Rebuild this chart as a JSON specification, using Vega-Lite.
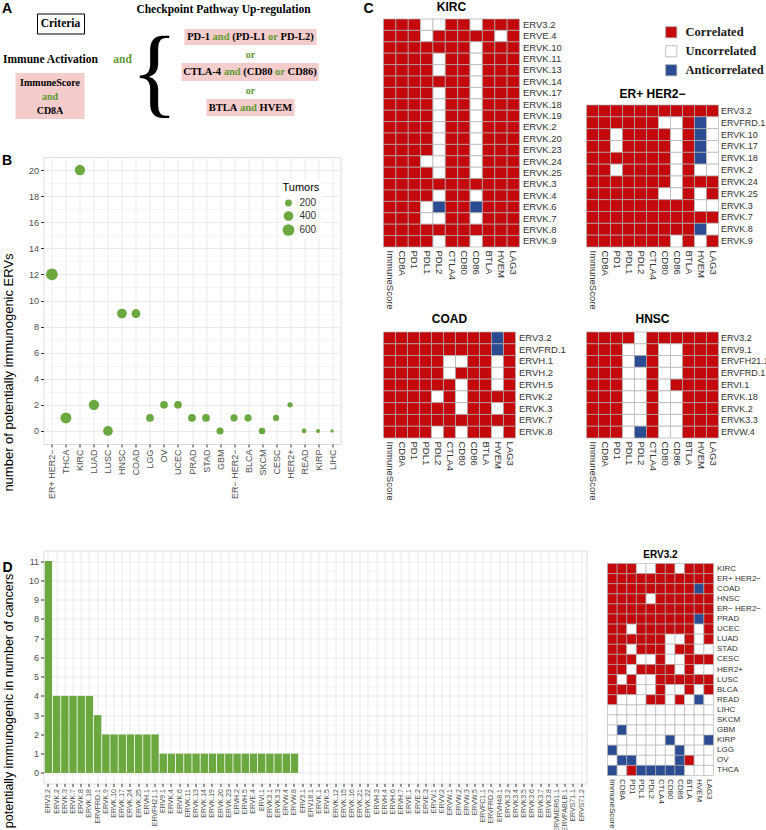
{
"$schema":"https://vega.github.io/schema/vega-lite/v6.json",
"padding":{"left":1.5,"top":0,"right":0,"bottom":0},
"background":"white",
"config":{"font":"Liberation Sans","view":{"stroke":null},"title":{"font":"Liberation Sans","color":"#000000"},"axis":{"labelFont":"Liberation Sans","titleFont":"Liberation Sans"}},
"datasets":{
"a_frame":[{"x1":39,"x2":86,"y1":12,"y2":32}],
"a_pink":[{"x1":17,"x2":86,"y1":71,"y2":117},{"x1":186,"x2":318,"y1":27,"y2":43},{"x1":183,"x2":320,"y1":61,"y2":79},{"x1":208,"x2":296,"y1":97,"y2":114}],
"a_head":[{"t":"Checkpoint Pathway Up-regulation","x":225,"y":7.5,"k":"black"},{"t":"Criteria","x":62,"y":22,"k":"black"},{"t":"Immune Activation","x":52,"y":58,"k":"black"},{"t":"and","x":124,"y":58,"k":"green"}],
"a_mid":[{"t":"ImmuneScore","x":51.5,"y":80.5,"k":"black"},{"t":"and","x":51.5,"y":94.5,"k":"green"},{"t":"CD8A","x":51.5,"y":108.5,"k":"black"},{"t":"or","x":252,"y":53,"k":"green"},{"t":"or","x":252,"y":89,"k":"green"}],
"a_seg":[{"t":"PD-1","x":188.7,"y":35,"k":"black"},{"t":"and","x":214.1,"y":35,"k":"green"},{"t":"(PD-L1","x":233.7,"y":35,"k":"black"},{"t":"or","x":269.6,"y":35,"k":"green"},{"t":"PD-L2)","x":282.1,"y":35,"k":"black"},
{"t":"CTLA-4","x":184.7,"y":70,"k":"black"},{"t":"and","x":225.2,"y":70,"k":"green"},{"t":"(CD80","x":244.8,"y":70,"k":"black"},{"t":"or","x":276.6,"y":70,"k":"green"},{"t":"CD86)","x":289.1,"y":70,"k":"black"},
{"t":"BTLA","x":210.3,"y":105.5,"k":"black"},{"t":"and","x":241.5,"y":105.5,"k":"green"},{"t":"HVEM","x":261.1,"y":105.5,"k":"black"}],
"a_brace":[{"t":"{","x":156,"y":103}],
"a_panel":[{"t":"A","x":8.5,"y":7},{"t":"B","x":8.5,"y":159},{"t":"C","x":370,"y":7}],
"b":[{"cancer":"ER+ HER2−","n":12,"tumors":600},{"cancer":"THCA","n":1,"tumors":520},{"cancer":"KIRC","n":20,"tumors":465},{"cancer":"LUAD","n":2,"tumors":465},{"cancer":"LUSC","n":0,"tumors":413},{"cancer":"HNSC","n":9,"tumors":413},{"cancer":"COAD","n":9,"tumors":340},{"cancer":"LGG","n":1,"tumors":257},{"cancer":"OV","n":2,"tumors":257},{"cancer":"UCEC","n":2,"tumors":257},{"cancer":"PRAD","n":1,"tumors":257},{"cancer":"STAD","n":1,"tumors":257},{"cancer":"GBM","n":0,"tumors":218},{"cancer":"ER− HER2−","n":1,"tumors":218},{"cancer":"BLCA","n":1,"tumors":218},{"cancer":"SKCM","n":0,"tumors":183},{"cancer":"CESC","n":1,"tumors":167},{"cancer":"HER2+","n":2,"tumors":123},{"cancer":"READ","n":0,"tumors":96},{"cancer":"KIRP","n":0,"tumors":74},{"cancer":"LIHC","n":0,"tumors":46}],
"d":[{"erv":"ERV3.2","n":11},{"erv":"ERVK.2","n":4},{"erv":"ERVK.3","n":4},{"erv":"ERVK.7","n":4},{"erv":"ERVK.8","n":4},{"erv":"ERVK.18","n":4},{"erv":"ERVFRD.1","n":3},{"erv":"ERVK.9","n":2},{"erv":"ERVK.10","n":2},{"erv":"ERVK.17","n":2},{"erv":"ERVK.24","n":2},{"erv":"ERVK.25","n":2},{"erv":"ERVH.1","n":2},{"erv":"ERVFH21.1","n":2},{"erv":"ERV9.1","n":1},{"erv":"ERVK.4","n":1},{"erv":"ERVK.6","n":1},{"erv":"ERVK.11","n":1},{"erv":"ERVK.13","n":1},{"erv":"ERVK.14","n":1},{"erv":"ERVK.19","n":1},{"erv":"ERVK.20","n":1},{"erv":"ERVK.23","n":1},{"erv":"ERVH.2","n":1},{"erv":"ERVH.5","n":1},{"erv":"ERVE.4","n":1},{"erv":"ERVI.1","n":1},{"erv":"ERVK3.1","n":1},{"erv":"ERVK3.3","n":1},{"erv":"ERVW.4","n":1},{"erv":"ERVW.8","n":1},{"erv":"ERV3.1","n":0},{"erv":"ERV18.1","n":0},{"erv":"ERVK.1","n":0},{"erv":"ERVK.5","n":0},{"erv":"ERVK.12","n":0},{"erv":"ERVK.15","n":0},{"erv":"ERVK.16","n":0},{"erv":"ERVK.21","n":0},{"erv":"ERVK.22","n":0},{"erv":"ERVH.3","n":0},{"erv":"ERVH.4","n":0},{"erv":"ERVH.6","n":0},{"erv":"ERVH.7","n":0},{"erv":"ERVE.1","n":0},{"erv":"ERVE.2","n":0},{"erv":"ERVE.3","n":0},{"erv":"ERVV.1","n":0},{"erv":"ERVV.2","n":0},{"erv":"ERVW.1","n":0},{"erv":"ERVW.2","n":0},{"erv":"ERVW.3","n":0},{"erv":"ERVW.5","n":0},{"erv":"ERVFC1.1","n":0},{"erv":"ERVFRD.2","n":0},{"erv":"ERVH48.1","n":0},{"erv":"ERVK3.2","n":0},{"erv":"ERVK3.4","n":0},{"erv":"ERVK3.5","n":0},{"erv":"ERVK3.6","n":0},{"erv":"ERVK3.7","n":0},{"erv":"ERVK3.8","n":0},{"erv":"ERVMER61.1","n":0},{"erv":"ERVPABLB.1","n":0},{"erv":"ERVS71.1","n":0},{"erv":"ERVS71.2","n":0}],
"kirc":[
{"r":"ERV3.2","c":"ImmuneScore","s":"C"},{"r":"ERV3.2","c":"CD8A","s":"C"},{"r":"ERV3.2","c":"PD1","s":"C"},{"r":"ERV3.2","c":"PDL1","s":"U"},{"r":"ERV3.2","c":"PDL2","s":"U"},{"r":"ERV3.2","c":"CTLA4","s":"C"},{"r":"ERV3.2","c":"CD80","s":"C"},{"r":"ERV3.2","c":"CD86","s":"U"},{"r":"ERV3.2","c":"BTLA","s":"C"},{"r":"ERV3.2","c":"HVEM","s":"C"},{"r":"ERV3.2","c":"LAG3","s":"C"},
{"r":"ERVE.4","c":"ImmuneScore","s":"C"},{"r":"ERVE.4","c":"CD8A","s":"C"},{"r":"ERVE.4","c":"PD1","s":"C"},{"r":"ERVE.4","c":"PDL1","s":"U"},{"r":"ERVE.4","c":"PDL2","s":"C"},{"r":"ERVE.4","c":"CTLA4","s":"C"},{"r":"ERVE.4","c":"CD80","s":"C"},{"r":"ERVE.4","c":"CD86","s":"C"},{"r":"ERVE.4","c":"BTLA","s":"C"},{"r":"ERVE.4","c":"HVEM","s":"U"},{"r":"ERVE.4","c":"LAG3","s":"C"},
{"r":"ERVK.10","c":"ImmuneScore","s":"C"},{"r":"ERVK.10","c":"CD8A","s":"C"},{"r":"ERVK.10","c":"PD1","s":"C"},{"r":"ERVK.10","c":"PDL1","s":"C"},{"r":"ERVK.10","c":"PDL2","s":"C"},{"r":"ERVK.10","c":"CTLA4","s":"C"},{"r":"ERVK.10","c":"CD80","s":"C"},{"r":"ERVK.10","c":"CD86","s":"U"},{"r":"ERVK.10","c":"BTLA","s":"C"},{"r":"ERVK.10","c":"HVEM","s":"C"},{"r":"ERVK.10","c":"LAG3","s":"C"},
{"r":"ERVK.11","c":"ImmuneScore","s":"C"},{"r":"ERVK.11","c":"CD8A","s":"C"},{"r":"ERVK.11","c":"PD1","s":"C"},{"r":"ERVK.11","c":"PDL1","s":"C"},{"r":"ERVK.11","c":"PDL2","s":"U"},{"r":"ERVK.11","c":"CTLA4","s":"C"},{"r":"ERVK.11","c":"CD80","s":"C"},{"r":"ERVK.11","c":"CD86","s":"U"},{"r":"ERVK.11","c":"BTLA","s":"C"},{"r":"ERVK.11","c":"HVEM","s":"C"},{"r":"ERVK.11","c":"LAG3","s":"C"},
{"r":"ERVK.13","c":"ImmuneScore","s":"C"},{"r":"ERVK.13","c":"CD8A","s":"C"},{"r":"ERVK.13","c":"PD1","s":"C"},{"r":"ERVK.13","c":"PDL1","s":"C"},{"r":"ERVK.13","c":"PDL2","s":"U"},{"r":"ERVK.13","c":"CTLA4","s":"C"},{"r":"ERVK.13","c":"CD80","s":"C"},{"r":"ERVK.13","c":"CD86","s":"U"},{"r":"ERVK.13","c":"BTLA","s":"C"},{"r":"ERVK.13","c":"HVEM","s":"C"},{"r":"ERVK.13","c":"LAG3","s":"C"},
{"r":"ERVK.14","c":"ImmuneScore","s":"C"},{"r":"ERVK.14","c":"CD8A","s":"C"},{"r":"ERVK.14","c":"PD1","s":"C"},{"r":"ERVK.14","c":"PDL1","s":"C"},{"r":"ERVK.14","c":"PDL2","s":"C"},{"r":"ERVK.14","c":"CTLA4","s":"C"},{"r":"ERVK.14","c":"CD80","s":"C"},{"r":"ERVK.14","c":"CD86","s":"U"},{"r":"ERVK.14","c":"BTLA","s":"C"},{"r":"ERVK.14","c":"HVEM","s":"C"},{"r":"ERVK.14","c":"LAG3","s":"C"},
{"r":"ERVK.17","c":"ImmuneScore","s":"C"},{"r":"ERVK.17","c":"CD8A","s":"C"},{"r":"ERVK.17","c":"PD1","s":"C"},{"r":"ERVK.17","c":"PDL1","s":"C"},{"r":"ERVK.17","c":"PDL2","s":"U"},{"r":"ERVK.17","c":"CTLA4","s":"C"},{"r":"ERVK.17","c":"CD80","s":"C"},{"r":"ERVK.17","c":"CD86","s":"U"},{"r":"ERVK.17","c":"BTLA","s":"C"},{"r":"ERVK.17","c":"HVEM","s":"C"},{"r":"ERVK.17","c":"LAG3","s":"C"},
{"r":"ERVK.18","c":"ImmuneScore","s":"C"},{"r":"ERVK.18","c":"CD8A","s":"C"},{"r":"ERVK.18","c":"PD1","s":"C"},{"r":"ERVK.18","c":"PDL1","s":"C"},{"r":"ERVK.18","c":"PDL2","s":"U"},{"r":"ERVK.18","c":"CTLA4","s":"C"},{"r":"ERVK.18","c":"CD80","s":"C"},{"r":"ERVK.18","c":"CD86","s":"U"},{"r":"ERVK.18","c":"BTLA","s":"C"},{"r":"ERVK.18","c":"HVEM","s":"C"},{"r":"ERVK.18","c":"LAG3","s":"C"},
{"r":"ERVK.19","c":"ImmuneScore","s":"C"},{"r":"ERVK.19","c":"CD8A","s":"C"},{"r":"ERVK.19","c":"PD1","s":"C"},{"r":"ERVK.19","c":"PDL1","s":"C"},{"r":"ERVK.19","c":"PDL2","s":"U"},{"r":"ERVK.19","c":"CTLA4","s":"C"},{"r":"ERVK.19","c":"CD80","s":"C"},{"r":"ERVK.19","c":"CD86","s":"U"},{"r":"ERVK.19","c":"BTLA","s":"C"},{"r":"ERVK.19","c":"HVEM","s":"C"},{"r":"ERVK.19","c":"LAG3","s":"C"},
{"r":"ERVK.2","c":"ImmuneScore","s":"C"},{"r":"ERVK.2","c":"CD8A","s":"C"},{"r":"ERVK.2","c":"PD1","s":"C"},{"r":"ERVK.2","c":"PDL1","s":"C"},{"r":"ERVK.2","c":"PDL2","s":"U"},{"r":"ERVK.2","c":"CTLA4","s":"C"},{"r":"ERVK.2","c":"CD80","s":"C"},{"r":"ERVK.2","c":"CD86","s":"U"},{"r":"ERVK.2","c":"BTLA","s":"C"},{"r":"ERVK.2","c":"HVEM","s":"C"},{"r":"ERVK.2","c":"LAG3","s":"C"},
{"r":"ERVK.20","c":"ImmuneScore","s":"C"},{"r":"ERVK.20","c":"CD8A","s":"C"},{"r":"ERVK.20","c":"PD1","s":"C"},{"r":"ERVK.20","c":"PDL1","s":"C"},{"r":"ERVK.20","c":"PDL2","s":"U"},{"r":"ERVK.20","c":"CTLA4","s":"C"},{"r":"ERVK.20","c":"CD80","s":"C"},{"r":"ERVK.20","c":"CD86","s":"U"},{"r":"ERVK.20","c":"BTLA","s":"C"},{"r":"ERVK.20","c":"HVEM","s":"C"},{"r":"ERVK.20","c":"LAG3","s":"C"},
{"r":"ERVK.23","c":"ImmuneScore","s":"C"},{"r":"ERVK.23","c":"CD8A","s":"C"},{"r":"ERVK.23","c":"PD1","s":"C"},{"r":"ERVK.23","c":"PDL1","s":"C"},{"r":"ERVK.23","c":"PDL2","s":"U"},{"r":"ERVK.23","c":"CTLA4","s":"C"},{"r":"ERVK.23","c":"CD80","s":"C"},{"r":"ERVK.23","c":"CD86","s":"U"},{"r":"ERVK.23","c":"BTLA","s":"C"},{"r":"ERVK.23","c":"HVEM","s":"C"},{"r":"ERVK.23","c":"LAG3","s":"C"},
{"r":"ERVK.24","c":"ImmuneScore","s":"C"},{"r":"ERVK.24","c":"CD8A","s":"C"},{"r":"ERVK.24","c":"PD1","s":"C"},{"r":"ERVK.24","c":"PDL1","s":"U"},{"r":"ERVK.24","c":"PDL2","s":"U"},{"r":"ERVK.24","c":"CTLA4","s":"C"},{"r":"ERVK.24","c":"CD80","s":"C"},{"r":"ERVK.24","c":"CD86","s":"U"},{"r":"ERVK.24","c":"BTLA","s":"C"},{"r":"ERVK.24","c":"HVEM","s":"C"},{"r":"ERVK.24","c":"LAG3","s":"C"},
{"r":"ERVK.25","c":"ImmuneScore","s":"C"},{"r":"ERVK.25","c":"CD8A","s":"C"},{"r":"ERVK.25","c":"PD1","s":"C"},{"r":"ERVK.25","c":"PDL1","s":"C"},{"r":"ERVK.25","c":"PDL2","s":"U"},{"r":"ERVK.25","c":"CTLA4","s":"C"},{"r":"ERVK.25","c":"CD80","s":"C"},{"r":"ERVK.25","c":"CD86","s":"U"},{"r":"ERVK.25","c":"BTLA","s":"C"},{"r":"ERVK.25","c":"HVEM","s":"C"},{"r":"ERVK.25","c":"LAG3","s":"C"},
{"r":"ERVK.3","c":"ImmuneScore","s":"C"},{"r":"ERVK.3","c":"CD8A","s":"C"},{"r":"ERVK.3","c":"PD1","s":"C"},{"r":"ERVK.3","c":"PDL1","s":"C"},{"r":"ERVK.3","c":"PDL2","s":"C"},{"r":"ERVK.3","c":"CTLA4","s":"C"},{"r":"ERVK.3","c":"CD80","s":"C"},{"r":"ERVK.3","c":"CD86","s":"C"},{"r":"ERVK.3","c":"BTLA","s":"C"},{"r":"ERVK.3","c":"HVEM","s":"C"},{"r":"ERVK.3","c":"LAG3","s":"C"},
{"r":"ERVK.4","c":"ImmuneScore","s":"C"},{"r":"ERVK.4","c":"CD8A","s":"C"},{"r":"ERVK.4","c":"PD1","s":"C"},{"r":"ERVK.4","c":"PDL1","s":"C"},{"r":"ERVK.4","c":"PDL2","s":"U"},{"r":"ERVK.4","c":"CTLA4","s":"C"},{"r":"ERVK.4","c":"CD80","s":"C"},{"r":"ERVK.4","c":"CD86","s":"U"},{"r":"ERVK.4","c":"BTLA","s":"C"},{"r":"ERVK.4","c":"HVEM","s":"C"},{"r":"ERVK.4","c":"LAG3","s":"C"},
{"r":"ERVK.6","c":"ImmuneScore","s":"C"},{"r":"ERVK.6","c":"CD8A","s":"C"},{"r":"ERVK.6","c":"PD1","s":"C"},{"r":"ERVK.6","c":"PDL1","s":"U"},{"r":"ERVK.6","c":"PDL2","s":"A"},{"r":"ERVK.6","c":"CTLA4","s":"C"},{"r":"ERVK.6","c":"CD80","s":"C"},{"r":"ERVK.6","c":"CD86","s":"A"},{"r":"ERVK.6","c":"BTLA","s":"C"},{"r":"ERVK.6","c":"HVEM","s":"C"},{"r":"ERVK.6","c":"LAG3","s":"C"},
{"r":"ERVK.7","c":"ImmuneScore","s":"C"},{"r":"ERVK.7","c":"CD8A","s":"C"},{"r":"ERVK.7","c":"PD1","s":"C"},{"r":"ERVK.7","c":"PDL1","s":"U"},{"r":"ERVK.7","c":"PDL2","s":"U"},{"r":"ERVK.7","c":"CTLA4","s":"C"},{"r":"ERVK.7","c":"CD80","s":"C"},{"r":"ERVK.7","c":"CD86","s":"U"},{"r":"ERVK.7","c":"BTLA","s":"C"},{"r":"ERVK.7","c":"HVEM","s":"C"},{"r":"ERVK.7","c":"LAG3","s":"C"},
{"r":"ERVK.8","c":"ImmuneScore","s":"C"},{"r":"ERVK.8","c":"CD8A","s":"C"},{"r":"ERVK.8","c":"PD1","s":"C"},{"r":"ERVK.8","c":"PDL1","s":"C"},{"r":"ERVK.8","c":"PDL2","s":"C"},{"r":"ERVK.8","c":"CTLA4","s":"C"},{"r":"ERVK.8","c":"CD80","s":"C"},{"r":"ERVK.8","c":"CD86","s":"C"},{"r":"ERVK.8","c":"BTLA","s":"C"},{"r":"ERVK.8","c":"HVEM","s":"C"},{"r":"ERVK.8","c":"LAG3","s":"C"},
{"r":"ERVK.9","c":"ImmuneScore","s":"C"},{"r":"ERVK.9","c":"CD8A","s":"C"},{"r":"ERVK.9","c":"PD1","s":"C"},{"r":"ERVK.9","c":"PDL1","s":"C"},{"r":"ERVK.9","c":"PDL2","s":"U"},{"r":"ERVK.9","c":"CTLA4","s":"C"},{"r":"ERVK.9","c":"CD80","s":"C"},{"r":"ERVK.9","c":"CD86","s":"U"},{"r":"ERVK.9","c":"BTLA","s":"C"},{"r":"ERVK.9","c":"HVEM","s":"C"},{"r":"ERVK.9","c":"LAG3","s":"C"}
],
"erp":[
{"r":"ERV3.2","c":"ImmuneScore","s":"C"},{"r":"ERV3.2","c":"CD8A","s":"C"},{"r":"ERV3.2","c":"PD1","s":"C"},{"r":"ERV3.2","c":"PDL1","s":"C"},{"r":"ERV3.2","c":"PDL2","s":"C"},{"r":"ERV3.2","c":"CTLA4","s":"C"},{"r":"ERV3.2","c":"CD80","s":"C"},{"r":"ERV3.2","c":"CD86","s":"C"},{"r":"ERV3.2","c":"BTLA","s":"C"},{"r":"ERV3.2","c":"HVEM","s":"C"},{"r":"ERV3.2","c":"LAG3","s":"C"},
{"r":"ERVFRD.1","c":"ImmuneScore","s":"C"},{"r":"ERVFRD.1","c":"CD8A","s":"C"},{"r":"ERVFRD.1","c":"PD1","s":"C"},{"r":"ERVFRD.1","c":"PDL1","s":"C"},{"r":"ERVFRD.1","c":"PDL2","s":"C"},{"r":"ERVFRD.1","c":"CTLA4","s":"C"},{"r":"ERVFRD.1","c":"CD80","s":"U"},{"r":"ERVFRD.1","c":"CD86","s":"U"},{"r":"ERVFRD.1","c":"BTLA","s":"C"},{"r":"ERVFRD.1","c":"HVEM","s":"A"},{"r":"ERVFRD.1","c":"LAG3","s":"U"},
{"r":"ERVK.10","c":"ImmuneScore","s":"C"},{"r":"ERVK.10","c":"CD8A","s":"C"},{"r":"ERVK.10","c":"PD1","s":"U"},{"r":"ERVK.10","c":"PDL1","s":"C"},{"r":"ERVK.10","c":"PDL2","s":"C"},{"r":"ERVK.10","c":"CTLA4","s":"C"},{"r":"ERVK.10","c":"CD80","s":"C"},{"r":"ERVK.10","c":"CD86","s":"U"},{"r":"ERVK.10","c":"BTLA","s":"C"},{"r":"ERVK.10","c":"HVEM","s":"A"},{"r":"ERVK.10","c":"LAG3","s":"U"},
{"r":"ERVK.17","c":"ImmuneScore","s":"C"},{"r":"ERVK.17","c":"CD8A","s":"C"},{"r":"ERVK.17","c":"PD1","s":"U"},{"r":"ERVK.17","c":"PDL1","s":"C"},{"r":"ERVK.17","c":"PDL2","s":"C"},{"r":"ERVK.17","c":"CTLA4","s":"C"},{"r":"ERVK.17","c":"CD80","s":"C"},{"r":"ERVK.17","c":"CD86","s":"U"},{"r":"ERVK.17","c":"BTLA","s":"C"},{"r":"ERVK.17","c":"HVEM","s":"A"},{"r":"ERVK.17","c":"LAG3","s":"U"},
{"r":"ERVK.18","c":"ImmuneScore","s":"C"},{"r":"ERVK.18","c":"CD8A","s":"C"},{"r":"ERVK.18","c":"PD1","s":"C"},{"r":"ERVK.18","c":"PDL1","s":"C"},{"r":"ERVK.18","c":"PDL2","s":"C"},{"r":"ERVK.18","c":"CTLA4","s":"C"},{"r":"ERVK.18","c":"CD80","s":"C"},{"r":"ERVK.18","c":"CD86","s":"U"},{"r":"ERVK.18","c":"BTLA","s":"C"},{"r":"ERVK.18","c":"HVEM","s":"A"},{"r":"ERVK.18","c":"LAG3","s":"U"},
{"r":"ERVK.2","c":"ImmuneScore","s":"C"},{"r":"ERVK.2","c":"CD8A","s":"C"},{"r":"ERVK.2","c":"PD1","s":"U"},{"r":"ERVK.2","c":"PDL1","s":"C"},{"r":"ERVK.2","c":"PDL2","s":"C"},{"r":"ERVK.2","c":"CTLA4","s":"C"},{"r":"ERVK.2","c":"CD80","s":"C"},{"r":"ERVK.2","c":"CD86","s":"U"},{"r":"ERVK.2","c":"BTLA","s":"C"},{"r":"ERVK.2","c":"HVEM","s":"U"},{"r":"ERVK.2","c":"LAG3","s":"U"},
{"r":"ERVK.24","c":"ImmuneScore","s":"C"},{"r":"ERVK.24","c":"CD8A","s":"C"},{"r":"ERVK.24","c":"PD1","s":"C"},{"r":"ERVK.24","c":"PDL1","s":"C"},{"r":"ERVK.24","c":"PDL2","s":"C"},{"r":"ERVK.24","c":"CTLA4","s":"C"},{"r":"ERVK.24","c":"CD80","s":"C"},{"r":"ERVK.24","c":"CD86","s":"U"},{"r":"ERVK.24","c":"BTLA","s":"C"},{"r":"ERVK.24","c":"HVEM","s":"C"},{"r":"ERVK.24","c":"LAG3","s":"C"},
{"r":"ERVK.25","c":"ImmuneScore","s":"C"},{"r":"ERVK.25","c":"CD8A","s":"C"},{"r":"ERVK.25","c":"PD1","s":"C"},{"r":"ERVK.25","c":"PDL1","s":"C"},{"r":"ERVK.25","c":"PDL2","s":"C"},{"r":"ERVK.25","c":"CTLA4","s":"C"},{"r":"ERVK.25","c":"CD80","s":"U"},{"r":"ERVK.25","c":"CD86","s":"U"},{"r":"ERVK.25","c":"BTLA","s":"C"},{"r":"ERVK.25","c":"HVEM","s":"U"},{"r":"ERVK.25","c":"LAG3","s":"C"},
{"r":"ERVK.3","c":"ImmuneScore","s":"C"},{"r":"ERVK.3","c":"CD8A","s":"C"},{"r":"ERVK.3","c":"PD1","s":"C"},{"r":"ERVK.3","c":"PDL1","s":"C"},{"r":"ERVK.3","c":"PDL2","s":"C"},{"r":"ERVK.3","c":"CTLA4","s":"C"},{"r":"ERVK.3","c":"CD80","s":"C"},{"r":"ERVK.3","c":"CD86","s":"C"},{"r":"ERVK.3","c":"BTLA","s":"C"},{"r":"ERVK.3","c":"HVEM","s":"U"},{"r":"ERVK.3","c":"LAG3","s":"U"},
{"r":"ERVK.7","c":"ImmuneScore","s":"C"},{"r":"ERVK.7","c":"CD8A","s":"C"},{"r":"ERVK.7","c":"PD1","s":"C"},{"r":"ERVK.7","c":"PDL1","s":"C"},{"r":"ERVK.7","c":"PDL2","s":"C"},{"r":"ERVK.7","c":"CTLA4","s":"C"},{"r":"ERVK.7","c":"CD80","s":"C"},{"r":"ERVK.7","c":"CD86","s":"C"},{"r":"ERVK.7","c":"BTLA","s":"C"},{"r":"ERVK.7","c":"HVEM","s":"C"},{"r":"ERVK.7","c":"LAG3","s":"C"},
{"r":"ERVK.8","c":"ImmuneScore","s":"C"},{"r":"ERVK.8","c":"CD8A","s":"C"},{"r":"ERVK.8","c":"PD1","s":"C"},{"r":"ERVK.8","c":"PDL1","s":"C"},{"r":"ERVK.8","c":"PDL2","s":"C"},{"r":"ERVK.8","c":"CTLA4","s":"C"},{"r":"ERVK.8","c":"CD80","s":"C"},{"r":"ERVK.8","c":"CD86","s":"C"},{"r":"ERVK.8","c":"BTLA","s":"C"},{"r":"ERVK.8","c":"HVEM","s":"A"},{"r":"ERVK.8","c":"LAG3","s":"U"},
{"r":"ERVK.9","c":"ImmuneScore","s":"C"},{"r":"ERVK.9","c":"CD8A","s":"C"},{"r":"ERVK.9","c":"PD1","s":"C"},{"r":"ERVK.9","c":"PDL1","s":"C"},{"r":"ERVK.9","c":"PDL2","s":"C"},{"r":"ERVK.9","c":"CTLA4","s":"C"},{"r":"ERVK.9","c":"CD80","s":"C"},{"r":"ERVK.9","c":"CD86","s":"U"},{"r":"ERVK.9","c":"BTLA","s":"C"},{"r":"ERVK.9","c":"HVEM","s":"U"},{"r":"ERVK.9","c":"LAG3","s":"C"}
],
"coad":[
{"r":"ERV3.2","c":"ImmuneScore","s":"C"},{"r":"ERV3.2","c":"CD8A","s":"C"},{"r":"ERV3.2","c":"PD1","s":"C"},{"r":"ERV3.2","c":"PDL1","s":"C"},{"r":"ERV3.2","c":"PDL2","s":"C"},{"r":"ERV3.2","c":"CTLA4","s":"C"},{"r":"ERV3.2","c":"CD80","s":"C"},{"r":"ERV3.2","c":"CD86","s":"C"},{"r":"ERV3.2","c":"BTLA","s":"C"},{"r":"ERV3.2","c":"HVEM","s":"A"},{"r":"ERV3.2","c":"LAG3","s":"C"},
{"r":"ERVFRD.1","c":"ImmuneScore","s":"C"},{"r":"ERVFRD.1","c":"CD8A","s":"C"},{"r":"ERVFRD.1","c":"PD1","s":"C"},{"r":"ERVFRD.1","c":"PDL1","s":"C"},{"r":"ERVFRD.1","c":"PDL2","s":"C"},{"r":"ERVFRD.1","c":"CTLA4","s":"C"},{"r":"ERVFRD.1","c":"CD80","s":"C"},{"r":"ERVFRD.1","c":"CD86","s":"C"},{"r":"ERVFRD.1","c":"BTLA","s":"C"},{"r":"ERVFRD.1","c":"HVEM","s":"A"},{"r":"ERVFRD.1","c":"LAG3","s":"C"},
{"r":"ERVH.1","c":"ImmuneScore","s":"C"},{"r":"ERVH.1","c":"CD8A","s":"C"},{"r":"ERVH.1","c":"PD1","s":"C"},{"r":"ERVH.1","c":"PDL1","s":"C"},{"r":"ERVH.1","c":"PDL2","s":"C"},{"r":"ERVH.1","c":"CTLA4","s":"U"},{"r":"ERVH.1","c":"CD80","s":"U"},{"r":"ERVH.1","c":"CD86","s":"C"},{"r":"ERVH.1","c":"BTLA","s":"C"},{"r":"ERVH.1","c":"HVEM","s":"U"},{"r":"ERVH.1","c":"LAG3","s":"C"},
{"r":"ERVH.2","c":"ImmuneScore","s":"C"},{"r":"ERVH.2","c":"CD8A","s":"C"},{"r":"ERVH.2","c":"PD1","s":"C"},{"r":"ERVH.2","c":"PDL1","s":"C"},{"r":"ERVH.2","c":"PDL2","s":"C"},{"r":"ERVH.2","c":"CTLA4","s":"U"},{"r":"ERVH.2","c":"CD80","s":"C"},{"r":"ERVH.2","c":"CD86","s":"C"},{"r":"ERVH.2","c":"BTLA","s":"C"},{"r":"ERVH.2","c":"HVEM","s":"U"},{"r":"ERVH.2","c":"LAG3","s":"C"},
{"r":"ERVH.5","c":"ImmuneScore","s":"C"},{"r":"ERVH.5","c":"CD8A","s":"C"},{"r":"ERVH.5","c":"PD1","s":"C"},{"r":"ERVH.5","c":"PDL1","s":"C"},{"r":"ERVH.5","c":"PDL2","s":"C"},{"r":"ERVH.5","c":"CTLA4","s":"C"},{"r":"ERVH.5","c":"CD80","s":"U"},{"r":"ERVH.5","c":"CD86","s":"C"},{"r":"ERVH.5","c":"BTLA","s":"C"},{"r":"ERVH.5","c":"HVEM","s":"U"},{"r":"ERVH.5","c":"LAG3","s":"C"},
{"r":"ERVK.2","c":"ImmuneScore","s":"C"},{"r":"ERVK.2","c":"CD8A","s":"C"},{"r":"ERVK.2","c":"PD1","s":"C"},{"r":"ERVK.2","c":"PDL1","s":"C"},{"r":"ERVK.2","c":"PDL2","s":"U"},{"r":"ERVK.2","c":"CTLA4","s":"C"},{"r":"ERVK.2","c":"CD80","s":"U"},{"r":"ERVK.2","c":"CD86","s":"C"},{"r":"ERVK.2","c":"BTLA","s":"C"},{"r":"ERVK.2","c":"HVEM","s":"C"},{"r":"ERVK.2","c":"LAG3","s":"C"},
{"r":"ERVK.3","c":"ImmuneScore","s":"C"},{"r":"ERVK.3","c":"CD8A","s":"C"},{"r":"ERVK.3","c":"PD1","s":"C"},{"r":"ERVK.3","c":"PDL1","s":"C"},{"r":"ERVK.3","c":"PDL2","s":"C"},{"r":"ERVK.3","c":"CTLA4","s":"C"},{"r":"ERVK.3","c":"CD80","s":"U"},{"r":"ERVK.3","c":"CD86","s":"C"},{"r":"ERVK.3","c":"BTLA","s":"C"},{"r":"ERVK.3","c":"HVEM","s":"U"},{"r":"ERVK.3","c":"LAG3","s":"C"},
{"r":"ERVK.7","c":"ImmuneScore","s":"C"},{"r":"ERVK.7","c":"CD8A","s":"C"},{"r":"ERVK.7","c":"PD1","s":"C"},{"r":"ERVK.7","c":"PDL1","s":"C"},{"r":"ERVK.7","c":"PDL2","s":"C"},{"r":"ERVK.7","c":"CTLA4","s":"C"},{"r":"ERVK.7","c":"CD80","s":"C"},{"r":"ERVK.7","c":"CD86","s":"C"},{"r":"ERVK.7","c":"BTLA","s":"C"},{"r":"ERVK.7","c":"HVEM","s":"C"},{"r":"ERVK.7","c":"LAG3","s":"C"},
{"r":"ERVK.8","c":"ImmuneScore","s":"C"},{"r":"ERVK.8","c":"CD8A","s":"C"},{"r":"ERVK.8","c":"PD1","s":"C"},{"r":"ERVK.8","c":"PDL1","s":"C"},{"r":"ERVK.8","c":"PDL2","s":"U"},{"r":"ERVK.8","c":"CTLA4","s":"C"},{"r":"ERVK.8","c":"CD80","s":"U"},{"r":"ERVK.8","c":"CD86","s":"C"},{"r":"ERVK.8","c":"BTLA","s":"C"},{"r":"ERVK.8","c":"HVEM","s":"U"},{"r":"ERVK.8","c":"LAG3","s":"C"}
],
"hnsc":[
{"r":"ERV3.2","c":"ImmuneScore","s":"C"},{"r":"ERV3.2","c":"CD8A","s":"C"},{"r":"ERV3.2","c":"PD1","s":"C"},{"r":"ERV3.2","c":"PDL1","s":"C"},{"r":"ERV3.2","c":"PDL2","s":"U"},{"r":"ERV3.2","c":"CTLA4","s":"C"},{"r":"ERV3.2","c":"CD80","s":"C"},{"r":"ERV3.2","c":"CD86","s":"C"},{"r":"ERV3.2","c":"BTLA","s":"C"},{"r":"ERV3.2","c":"HVEM","s":"C"},{"r":"ERV3.2","c":"LAG3","s":"C"},
{"r":"ERV9.1","c":"ImmuneScore","s":"C"},{"r":"ERV9.1","c":"CD8A","s":"C"},{"r":"ERV9.1","c":"PD1","s":"C"},{"r":"ERV9.1","c":"PDL1","s":"U"},{"r":"ERV9.1","c":"PDL2","s":"U"},{"r":"ERV9.1","c":"CTLA4","s":"C"},{"r":"ERV9.1","c":"CD80","s":"U"},{"r":"ERV9.1","c":"CD86","s":"U"},{"r":"ERV9.1","c":"BTLA","s":"C"},{"r":"ERV9.1","c":"HVEM","s":"C"},{"r":"ERV9.1","c":"LAG3","s":"C"},
{"r":"ERVFH21.1","c":"ImmuneScore","s":"C"},{"r":"ERVFH21.1","c":"CD8A","s":"C"},{"r":"ERVFH21.1","c":"PD1","s":"C"},{"r":"ERVFH21.1","c":"PDL1","s":"U"},{"r":"ERVFH21.1","c":"PDL2","s":"A"},{"r":"ERVFH21.1","c":"CTLA4","s":"C"},{"r":"ERVFH21.1","c":"CD80","s":"U"},{"r":"ERVFH21.1","c":"CD86","s":"U"},{"r":"ERVFH21.1","c":"BTLA","s":"C"},{"r":"ERVFH21.1","c":"HVEM","s":"C"},{"r":"ERVFH21.1","c":"LAG3","s":"C"},
{"r":"ERVFRD.1","c":"ImmuneScore","s":"C"},{"r":"ERVFRD.1","c":"CD8A","s":"C"},{"r":"ERVFRD.1","c":"PD1","s":"C"},{"r":"ERVFRD.1","c":"PDL1","s":"U"},{"r":"ERVFRD.1","c":"PDL2","s":"U"},{"r":"ERVFRD.1","c":"CTLA4","s":"C"},{"r":"ERVFRD.1","c":"CD80","s":"U"},{"r":"ERVFRD.1","c":"CD86","s":"U"},{"r":"ERVFRD.1","c":"BTLA","s":"C"},{"r":"ERVFRD.1","c":"HVEM","s":"C"},{"r":"ERVFRD.1","c":"LAG3","s":"C"},
{"r":"ERVI.1","c":"ImmuneScore","s":"C"},{"r":"ERVI.1","c":"CD8A","s":"C"},{"r":"ERVI.1","c":"PD1","s":"C"},{"r":"ERVI.1","c":"PDL1","s":"U"},{"r":"ERVI.1","c":"PDL2","s":"U"},{"r":"ERVI.1","c":"CTLA4","s":"C"},{"r":"ERVI.1","c":"CD80","s":"U"},{"r":"ERVI.1","c":"CD86","s":"C"},{"r":"ERVI.1","c":"BTLA","s":"C"},{"r":"ERVI.1","c":"HVEM","s":"C"},{"r":"ERVI.1","c":"LAG3","s":"C"},
{"r":"ERVK.18","c":"ImmuneScore","s":"C"},{"r":"ERVK.18","c":"CD8A","s":"C"},{"r":"ERVK.18","c":"PD1","s":"C"},{"r":"ERVK.18","c":"PDL1","s":"U"},{"r":"ERVK.18","c":"PDL2","s":"U"},{"r":"ERVK.18","c":"CTLA4","s":"C"},{"r":"ERVK.18","c":"CD80","s":"U"},{"r":"ERVK.18","c":"CD86","s":"U"},{"r":"ERVK.18","c":"BTLA","s":"C"},{"r":"ERVK.18","c":"HVEM","s":"C"},{"r":"ERVK.18","c":"LAG3","s":"C"},
{"r":"ERVK.2","c":"ImmuneScore","s":"C"},{"r":"ERVK.2","c":"CD8A","s":"C"},{"r":"ERVK.2","c":"PD1","s":"C"},{"r":"ERVK.2","c":"PDL1","s":"U"},{"r":"ERVK.2","c":"PDL2","s":"U"},{"r":"ERVK.2","c":"CTLA4","s":"C"},{"r":"ERVK.2","c":"CD80","s":"U"},{"r":"ERVK.2","c":"CD86","s":"U"},{"r":"ERVK.2","c":"BTLA","s":"C"},{"r":"ERVK.2","c":"HVEM","s":"C"},{"r":"ERVK.2","c":"LAG3","s":"C"},
{"r":"ERVK3.3","c":"ImmuneScore","s":"C"},{"r":"ERVK3.3","c":"CD8A","s":"C"},{"r":"ERVK3.3","c":"PD1","s":"C"},{"r":"ERVK3.3","c":"PDL1","s":"U"},{"r":"ERVK3.3","c":"PDL2","s":"U"},{"r":"ERVK3.3","c":"CTLA4","s":"C"},{"r":"ERVK3.3","c":"CD80","s":"U"},{"r":"ERVK3.3","c":"CD86","s":"U"},{"r":"ERVK3.3","c":"BTLA","s":"C"},{"r":"ERVK3.3","c":"HVEM","s":"C"},{"r":"ERVK3.3","c":"LAG3","s":"C"},
{"r":"ERVW.4","c":"ImmuneScore","s":"C"},{"r":"ERVW.4","c":"CD8A","s":"C"},{"r":"ERVW.4","c":"PD1","s":"C"},{"r":"ERVW.4","c":"PDL1","s":"U"},{"r":"ERVW.4","c":"PDL2","s":"A"},{"r":"ERVW.4","c":"CTLA4","s":"C"},{"r":"ERVW.4","c":"CD80","s":"U"},{"r":"ERVW.4","c":"CD86","s":"U"},{"r":"ERVW.4","c":"BTLA","s":"C"},{"r":"ERVW.4","c":"HVEM","s":"C"},{"r":"ERVW.4","c":"LAG3","s":"C"}
],
"erv32":[
{"r":"KIRC","c":"ImmuneScore","s":"C"},{"r":"KIRC","c":"CD8A","s":"C"},{"r":"KIRC","c":"PD1","s":"C"},{"r":"KIRC","c":"PDL1","s":"U"},{"r":"KIRC","c":"PDL2","s":"U"},{"r":"KIRC","c":"CTLA4","s":"C"},{"r":"KIRC","c":"CD80","s":"C"},{"r":"KIRC","c":"CD86","s":"U"},{"r":"KIRC","c":"BTLA","s":"C"},{"r":"KIRC","c":"HVEM","s":"C"},{"r":"KIRC","c":"LAG3","s":"C"},
{"r":"ER+ HER2−","c":"ImmuneScore","s":"C"},{"r":"ER+ HER2−","c":"CD8A","s":"C"},{"r":"ER+ HER2−","c":"PD1","s":"C"},{"r":"ER+ HER2−","c":"PDL1","s":"C"},{"r":"ER+ HER2−","c":"PDL2","s":"C"},{"r":"ER+ HER2−","c":"CTLA4","s":"C"},{"r":"ER+ HER2−","c":"CD80","s":"C"},{"r":"ER+ HER2−","c":"CD86","s":"C"},{"r":"ER+ HER2−","c":"BTLA","s":"C"},{"r":"ER+ HER2−","c":"HVEM","s":"C"},{"r":"ER+ HER2−","c":"LAG3","s":"C"},
{"r":"COAD","c":"ImmuneScore","s":"C"},{"r":"COAD","c":"CD8A","s":"C"},{"r":"COAD","c":"PD1","s":"C"},{"r":"COAD","c":"PDL1","s":"C"},{"r":"COAD","c":"PDL2","s":"C"},{"r":"COAD","c":"CTLA4","s":"C"},{"r":"COAD","c":"CD80","s":"C"},{"r":"COAD","c":"CD86","s":"C"},{"r":"COAD","c":"BTLA","s":"C"},{"r":"COAD","c":"HVEM","s":"A"},{"r":"COAD","c":"LAG3","s":"C"},
{"r":"HNSC","c":"ImmuneScore","s":"C"},{"r":"HNSC","c":"CD8A","s":"C"},{"r":"HNSC","c":"PD1","s":"C"},{"r":"HNSC","c":"PDL1","s":"C"},{"r":"HNSC","c":"PDL2","s":"U"},{"r":"HNSC","c":"CTLA4","s":"C"},{"r":"HNSC","c":"CD80","s":"C"},{"r":"HNSC","c":"CD86","s":"C"},{"r":"HNSC","c":"BTLA","s":"C"},{"r":"HNSC","c":"HVEM","s":"C"},{"r":"HNSC","c":"LAG3","s":"C"},
{"r":"ER− HER2−","c":"ImmuneScore","s":"C"},{"r":"ER− HER2−","c":"CD8A","s":"C"},{"r":"ER− HER2−","c":"PD1","s":"C"},{"r":"ER− HER2−","c":"PDL1","s":"C"},{"r":"ER− HER2−","c":"PDL2","s":"C"},{"r":"ER− HER2−","c":"CTLA4","s":"C"},{"r":"ER− HER2−","c":"CD80","s":"C"},{"r":"ER− HER2−","c":"CD86","s":"C"},{"r":"ER− HER2−","c":"BTLA","s":"C"},{"r":"ER− HER2−","c":"HVEM","s":"C"},{"r":"ER− HER2−","c":"LAG3","s":"C"},
{"r":"PRAD","c":"ImmuneScore","s":"C"},{"r":"PRAD","c":"CD8A","s":"C"},{"r":"PRAD","c":"PD1","s":"C"},{"r":"PRAD","c":"PDL1","s":"C"},{"r":"PRAD","c":"PDL2","s":"C"},{"r":"PRAD","c":"CTLA4","s":"C"},{"r":"PRAD","c":"CD80","s":"C"},{"r":"PRAD","c":"CD86","s":"C"},{"r":"PRAD","c":"BTLA","s":"C"},{"r":"PRAD","c":"HVEM","s":"A"},{"r":"PRAD","c":"LAG3","s":"C"},
{"r":"UCEC","c":"ImmuneScore","s":"C"},{"r":"UCEC","c":"CD8A","s":"C"},{"r":"UCEC","c":"PD1","s":"U"},{"r":"UCEC","c":"PDL1","s":"C"},{"r":"UCEC","c":"PDL2","s":"C"},{"r":"UCEC","c":"CTLA4","s":"C"},{"r":"UCEC","c":"CD80","s":"C"},{"r":"UCEC","c":"CD86","s":"C"},{"r":"UCEC","c":"BTLA","s":"C"},{"r":"UCEC","c":"HVEM","s":"U"},{"r":"UCEC","c":"LAG3","s":"C"},
{"r":"LUAD","c":"ImmuneScore","s":"C"},{"r":"LUAD","c":"CD8A","s":"C"},{"r":"LUAD","c":"PD1","s":"C"},{"r":"LUAD","c":"PDL1","s":"C"},{"r":"LUAD","c":"PDL2","s":"C"},{"r":"LUAD","c":"CTLA4","s":"C"},{"r":"LUAD","c":"CD80","s":"U"},{"r":"LUAD","c":"CD86","s":"U"},{"r":"LUAD","c":"BTLA","s":"C"},{"r":"LUAD","c":"HVEM","s":"U"},{"r":"LUAD","c":"LAG3","s":"C"},
{"r":"STAD","c":"ImmuneScore","s":"C"},{"r":"STAD","c":"CD8A","s":"C"},{"r":"STAD","c":"PD1","s":"U"},{"r":"STAD","c":"PDL1","s":"C"},{"r":"STAD","c":"PDL2","s":"C"},{"r":"STAD","c":"CTLA4","s":"C"},{"r":"STAD","c":"CD80","s":"U"},{"r":"STAD","c":"CD86","s":"C"},{"r":"STAD","c":"BTLA","s":"C"},{"r":"STAD","c":"HVEM","s":"U"},{"r":"STAD","c":"LAG3","s":"U"},
{"r":"CESC","c":"ImmuneScore","s":"C"},{"r":"CESC","c":"CD8A","s":"C"},{"r":"CESC","c":"PD1","s":"C"},{"r":"CESC","c":"PDL1","s":"U"},{"r":"CESC","c":"PDL2","s":"U"},{"r":"CESC","c":"CTLA4","s":"C"},{"r":"CESC","c":"CD80","s":"U"},{"r":"CESC","c":"CD86","s":"U"},{"r":"CESC","c":"BTLA","s":"C"},{"r":"CESC","c":"HVEM","s":"C"},{"r":"CESC","c":"LAG3","s":"C"},
{"r":"HER2+","c":"ImmuneScore","s":"C"},{"r":"HER2+","c":"CD8A","s":"C"},{"r":"HER2+","c":"PD1","s":"U"},{"r":"HER2+","c":"PDL1","s":"C"},{"r":"HER2+","c":"PDL2","s":"C"},{"r":"HER2+","c":"CTLA4","s":"C"},{"r":"HER2+","c":"CD80","s":"C"},{"r":"HER2+","c":"CD86","s":"U"},{"r":"HER2+","c":"BTLA","s":"C"},{"r":"HER2+","c":"HVEM","s":"U"},{"r":"HER2+","c":"LAG3","s":"U"},
{"r":"LUSC","c":"ImmuneScore","s":"C"},{"r":"LUSC","c":"CD8A","s":"U"},{"r":"LUSC","c":"PD1","s":"C"},{"r":"LUSC","c":"PDL1","s":"U"},{"r":"LUSC","c":"PDL2","s":"U"},{"r":"LUSC","c":"CTLA4","s":"C"},{"r":"LUSC","c":"CD80","s":"C"},{"r":"LUSC","c":"CD86","s":"C"},{"r":"LUSC","c":"BTLA","s":"C"},{"r":"LUSC","c":"HVEM","s":"C"},{"r":"LUSC","c":"LAG3","s":"C"},
{"r":"BLCA","c":"ImmuneScore","s":"C"},{"r":"BLCA","c":"CD8A","s":"C"},{"r":"BLCA","c":"PD1","s":"C"},{"r":"BLCA","c":"PDL1","s":"U"},{"r":"BLCA","c":"PDL2","s":"U"},{"r":"BLCA","c":"CTLA4","s":"C"},{"r":"BLCA","c":"CD80","s":"U"},{"r":"BLCA","c":"CD86","s":"U"},{"r":"BLCA","c":"BTLA","s":"C"},{"r":"BLCA","c":"HVEM","s":"U"},{"r":"BLCA","c":"LAG3","s":"C"},
{"r":"READ","c":"ImmuneScore","s":"C"},{"r":"READ","c":"CD8A","s":"U"},{"r":"READ","c":"PD1","s":"U"},{"r":"READ","c":"PDL1","s":"U"},{"r":"READ","c":"PDL2","s":"C"},{"r":"READ","c":"CTLA4","s":"C"},{"r":"READ","c":"CD80","s":"U"},{"r":"READ","c":"CD86","s":"C"},{"r":"READ","c":"BTLA","s":"U"},{"r":"READ","c":"HVEM","s":"A"},{"r":"READ","c":"LAG3","s":"U"},
{"r":"LIHC","c":"ImmuneScore","s":"U"},{"r":"LIHC","c":"CD8A","s":"U"},{"r":"LIHC","c":"PD1","s":"U"},{"r":"LIHC","c":"PDL1","s":"U"},{"r":"LIHC","c":"PDL2","s":"U"},{"r":"LIHC","c":"CTLA4","s":"U"},{"r":"LIHC","c":"CD80","s":"U"},{"r":"LIHC","c":"CD86","s":"U"},{"r":"LIHC","c":"BTLA","s":"U"},{"r":"LIHC","c":"HVEM","s":"U"},{"r":"LIHC","c":"LAG3","s":"U"},
{"r":"SKCM","c":"ImmuneScore","s":"U"},{"r":"SKCM","c":"CD8A","s":"U"},{"r":"SKCM","c":"PD1","s":"U"},{"r":"SKCM","c":"PDL1","s":"U"},{"r":"SKCM","c":"PDL2","s":"U"},{"r":"SKCM","c":"CTLA4","s":"U"},{"r":"SKCM","c":"CD80","s":"U"},{"r":"SKCM","c":"CD86","s":"U"},{"r":"SKCM","c":"BTLA","s":"U"},{"r":"SKCM","c":"HVEM","s":"U"},{"r":"SKCM","c":"LAG3","s":"U"},
{"r":"GBM","c":"ImmuneScore","s":"U"},{"r":"GBM","c":"CD8A","s":"A"},{"r":"GBM","c":"PD1","s":"U"},{"r":"GBM","c":"PDL1","s":"U"},{"r":"GBM","c":"PDL2","s":"U"},{"r":"GBM","c":"CTLA4","s":"U"},{"r":"GBM","c":"CD80","s":"U"},{"r":"GBM","c":"CD86","s":"U"},{"r":"GBM","c":"BTLA","s":"U"},{"r":"GBM","c":"HVEM","s":"U"},{"r":"GBM","c":"LAG3","s":"U"},
{"r":"KIRP","c":"ImmuneScore","s":"U"},{"r":"KIRP","c":"CD8A","s":"U"},{"r":"KIRP","c":"PD1","s":"U"},{"r":"KIRP","c":"PDL1","s":"U"},{"r":"KIRP","c":"PDL2","s":"U"},{"r":"KIRP","c":"CTLA4","s":"U"},{"r":"KIRP","c":"CD80","s":"A"},{"r":"KIRP","c":"CD86","s":"U"},{"r":"KIRP","c":"BTLA","s":"U"},{"r":"KIRP","c":"HVEM","s":"U"},{"r":"KIRP","c":"LAG3","s":"A"},
{"r":"LGG","c":"ImmuneScore","s":"A"},{"r":"LGG","c":"CD8A","s":"U"},{"r":"LGG","c":"PD1","s":"U"},{"r":"LGG","c":"PDL1","s":"U"},{"r":"LGG","c":"PDL2","s":"U"},{"r":"LGG","c":"CTLA4","s":"U"},{"r":"LGG","c":"CD80","s":"U"},{"r":"LGG","c":"CD86","s":"A"},{"r":"LGG","c":"BTLA","s":"U"},{"r":"LGG","c":"HVEM","s":"U"},{"r":"LGG","c":"LAG3","s":"U"},
{"r":"OV","c":"ImmuneScore","s":"U"},{"r":"OV","c":"CD8A","s":"A"},{"r":"OV","c":"PD1","s":"A"},{"r":"OV","c":"PDL1","s":"U"},{"r":"OV","c":"PDL2","s":"U"},{"r":"OV","c":"CTLA4","s":"U"},{"r":"OV","c":"CD80","s":"U"},{"r":"OV","c":"CD86","s":"A"},{"r":"OV","c":"BTLA","s":"C"},{"r":"OV","c":"HVEM","s":"U"},{"r":"OV","c":"LAG3","s":"U"},
{"r":"THCA","c":"ImmuneScore","s":"A"},{"r":"THCA","c":"CD8A","s":"U"},{"r":"THCA","c":"PD1","s":"C"},{"r":"THCA","c":"PDL1","s":"A"},{"r":"THCA","c":"PDL2","s":"A"},{"r":"THCA","c":"CTLA4","s":"A"},{"r":"THCA","c":"CD80","s":"A"},{"r":"THCA","c":"CD86","s":"A"},{"r":"THCA","c":"BTLA","s":"U"},{"r":"THCA","c":"HVEM","s":"U"},{"r":"THCA","c":"LAG3","s":"U"}
]
},
"spacing":48.5,
"resolve":{"scale":{"size":"independent"},"legend":{"size":"independent"}},
"vconcat":[
{"spacing":8,
 "resolve":{"scale":{"size":"independent"},"legend":{"size":"independent"}},
 "hconcat":[
 {"bounds":"flush","spacing":25,
  "resolve":{"scale":{"size":"independent"},"legend":{"size":"independent"}},
  "vconcat":[
  {"width":325,"height":113,
   "layer":[
    {"data":{"name":"a_frame"},"mark":{"type":"rect","fill":"#ffffff","stroke":"#000000","strokeWidth":1},
     "encoding":{"x":{"field":"x1","type":"quantitative","scale":{"domain":[45,370],"nice":false,"zero":false},"axis":null},"x2":{"field":"x2"},"y":{"field":"y1","type":"quantitative","scale":{"domain":[17,130],"nice":false,"zero":false,"reverse":true},"axis":null},"y2":{"field":"y2"}}},
    {"data":{"name":"a_pink"},"mark":{"type":"rect","fill":"#f4cccc"},
     "encoding":{"x":{"field":"x1","type":"quantitative","scale":{"domain":[45,370],"nice":false,"zero":false},"axis":null},"x2":{"field":"x2"},"y":{"field":"y1","type":"quantitative","scale":{"domain":[17,130],"nice":false,"zero":false,"reverse":true},"axis":null},"y2":{"field":"y2"}}},
    {"data":{"name":"a_head"},"mark":{"type":"text","font":"Liberation Serif","fontSize":11.5,"fontWeight":"bold","align":"center","baseline":"middle"},
     "encoding":{"x":{"field":"x","type":"quantitative","scale":{"domain":[45,370],"nice":false,"zero":false},"axis":null},"y":{"field":"y","type":"quantitative","scale":{"domain":[17,130],"nice":false,"zero":false,"reverse":true},"axis":null},"text":{"field":"t"},"fill":{"field":"k","type":"nominal","scale":{"domain":["black","green"],"range":["#000000","#5f9a32"]},"legend":null}}},
    {"data":{"name":"a_mid"},"mark":{"type":"text","font":"Liberation Serif","fontSize":10,"fontWeight":"bold","align":"center","baseline":"middle"},
     "encoding":{"x":{"field":"x","type":"quantitative","scale":{"domain":[45,370],"nice":false,"zero":false},"axis":null},"y":{"field":"y","type":"quantitative","scale":{"domain":[17,130],"nice":false,"zero":false,"reverse":true},"axis":null},"text":{"field":"t"},"fill":{"field":"k","type":"nominal","scale":{"domain":["black","green"],"range":["#000000","#5f9a32"]},"legend":null}}},
    {"data":{"name":"a_seg"},"mark":{"type":"text","font":"Liberation Serif","fontSize":10.5,"fontWeight":"bold","align":"left","baseline":"middle"},
     "encoding":{"x":{"field":"x","type":"quantitative","scale":{"domain":[45,370],"nice":false,"zero":false},"axis":null},"y":{"field":"y","type":"quantitative","scale":{"domain":[17,130],"nice":false,"zero":false,"reverse":true},"axis":null},"text":{"field":"t"},"fill":{"field":"k","type":"nominal","scale":{"domain":["black","green"],"range":["#000000","#5f9a32"]},"legend":null}}},
    {"data":{"name":"a_brace"},"mark":{"type":"text","font":"Liberation Serif","fontSize":99,"align":"center","baseline":"alphabetic","color":"#000000"},
     "encoding":{"x":{"field":"x","type":"quantitative","scale":{"domain":[45,370],"nice":false,"zero":false},"axis":null},"y":{"field":"y","type":"quantitative","scale":{"domain":[17,130],"nice":false,"zero":false,"reverse":true},"axis":null},"text":{"field":"t"}}},
    {"data":{"name":"a_panel"},"mark":{"type":"text","font":"Liberation Sans","fontSize":14,"fontWeight":"bold","align":"center","baseline":"middle","color":"#000000"},
     "encoding":{"x":{"field":"x","type":"quantitative","scale":{"domain":[45,370],"nice":false,"zero":false},"axis":null},"y":{"field":"y","type":"quantitative","scale":{"domain":[17,130],"nice":false,"zero":false,"reverse":true},"axis":null},"text":{"field":"t"}}}
   ]},
  {"width":297,"height":287,"view":{"stroke":"#dcdcdc"},
   "data":{"name":"b"},
   "mark":{"type":"circle","color":"#6ba83f","opacity":1},
   "encoding":{
    "x":{"field":"cancer","type":"nominal","sort":null,"scale":{"type":"point","padding":0.6},"axis":{"title":null,"labelAngle":-90,"labelFontSize":9,"labelColor":"#4d4d4d","tickColor":"#333333","tickSize":3,"domain":false,"grid":true,"gridColor":"#ebebeb","labelPadding":2}},
    "y":{"field":"n","type":"quantitative","scale":{"domain":[-1,21],"nice":false,"zero":false},"axis":{"title":"number of potentially immunogenic ERVs","titleFontSize":13,"titleFontWeight":"normal","titleColor":"#000000","titleX":-28,"titleY":215,"values":[0,1,2,3,4,5,6,7,8,9,10,11,12,13,14,15,16,17,18,19,20],"labelExpr":"datum.value % 2 == 0 ? format(datum.value, 'd') : ''","labelOverlap":false,"labelFontSize":9,"labelColor":"#4d4d4d","tickColor":"#333333","tickSize":3,"tickOpacity":{"condition":{"test":"datum.value % 2 == 1","value":0},"value":1},"domain":false,"grid":true,"gridColor":{"condition":{"test":"datum.value % 2 == 1","value":"#f4f4f4"},"value":"#ebebeb"},"labelPadding":2}},
    "size":{"field":"tumors","type":"quantitative","scale":{"domain":[0,700],"range":[0,161]},"legend":{"orient":"none","legendX":236,"legendY":22,"title":"Tumors","values":[200,400,600],"titleFontSize":11,"titleFontWeight":"normal","titleColor":"#000000","labelFontSize":10,"labelColor":"#333333","symbolFillColor":"#6ba83f","symbolStrokeWidth":0,"symbolOpacity":1,"rowPadding":3,"titlePadding":5,"labelOffset":5,"padding":3,"fillColor":"#ffffff"}}
   }}
  ]},
 {"spacing":20,
  "hconcat":[
  {"bounds":"flush","spacing":85,
   "vconcat":[
   {"width":136,"height":228,"title":{"text":"KIRC","fontSize":12,"fontWeight":"bold","offset":5},
    "data":{"name":"kirc"},"mark":{"type":"rect","stroke":"#b0b0b0","strokeWidth":0.7},
    "encoding":{
     "x":{"field":"c","type":"nominal","sort":["ImmuneScore","CD8A","PD1","PDL1","PDL2","CTLA4","CD80","CD86","BTLA","HVEM","LAG3"],"scale":{"paddingInner":0,"paddingOuter":0},"axis":{"title":null,"orient":"bottom","labelAngle":90,"ticks":false,"domain":false,"labelFontSize":9.5,"labelColor":"#333333","labelPadding":3}},
     "y":{"field":"r","type":"nominal","sort":null,"scale":{"paddingInner":0,"paddingOuter":0},"axis":{"title":null,"orient":"right","ticks":false,"domain":false,"labelFontSize":9.5,"labelColor":"#333333","labelPadding":3}},
     "color":{"field":"s","type":"nominal","scale":{"domain":["C","U","A"],"range":["#c4090c","#ffffff","#2b4c92"]},
      "legend":{"orient":"none","legendX":621.5,"legendY":7,"title":null,"symbolType":"square","symbolSize":125,"symbolStrokeColor":"#a0a0a0","symbolStrokeWidth":0.8,"labelFont":"Liberation Serif","labelFontSize":12.5,"labelFontWeight":"bold","labelColor":"#1a1a1a","labelOffset":8,"rowPadding":4,"padding":0,"labelExpr":"datum.label == 'C' ? 'Correlated' : datum.label == 'U' ? 'Uncorrelated' : 'Anticorrelated'"}}
    }},
   {"width":132,"height":106,"title":{"text":"COAD","fontSize":12,"fontWeight":"bold","offset":6},
    "data":{"name":"coad"},"mark":{"type":"rect","stroke":"#b0b0b0","strokeWidth":0.7},
    "encoding":{
     "x":{"field":"c","type":"nominal","sort":["ImmuneScore","CD8A","PD1","PDL1","PDL2","CTLA4","CD80","CD86","BTLA","HVEM","LAG3"],"scale":{"paddingInner":0,"paddingOuter":0},"axis":{"title":null,"orient":"bottom","labelAngle":90,"ticks":false,"domain":false,"labelFontSize":9.5,"labelColor":"#333333","labelPadding":3}},
     "y":{"field":"r","type":"nominal","sort":null,"scale":{"paddingInner":0,"paddingOuter":0},"axis":{"title":null,"orient":"right","ticks":false,"domain":false,"labelFontSize":9.5,"labelColor":"#333333","labelPadding":3}},
     "color":{"field":"s","type":"nominal","scale":{"domain":["C","U","A"],"range":["#c4090c","#ffffff","#2b4c92"]}}
    }}
   ]},
  {"bounds":"flush","spacing":85,
   "vconcat":[
   {"width":1,"height":1,"data":{"values":[]},"mark":{"type":"point","opacity":0}},
   {"width":132,"height":142,"title":{"text":"ER+ HER2−","fontSize":12,"fontWeight":"bold","offset":4},
    "data":{"name":"erp"},"mark":{"type":"rect","stroke":"#b0b0b0","strokeWidth":0.7},
    "encoding":{
     "x":{"field":"c","type":"nominal","sort":["ImmuneScore","CD8A","PD1","PDL1","PDL2","CTLA4","CD80","CD86","BTLA","HVEM","LAG3"],"scale":{"paddingInner":0,"paddingOuter":0},"axis":{"title":null,"orient":"bottom","labelAngle":90,"ticks":false,"domain":false,"labelFontSize":9.5,"labelColor":"#333333","labelPadding":3}},
     "y":{"field":"r","type":"nominal","sort":null,"scale":{"paddingInner":0,"paddingOuter":0},"axis":{"title":null,"orient":"right","ticks":false,"domain":false,"labelFontSize":9,"labelColor":"#333333","labelPadding":2}},
     "color":{"field":"s","type":"nominal","scale":{"domain":["C","U","A"],"range":["#c4090c","#ffffff","#2b4c92"]}}
    }},
   {"width":132,"height":106,"title":{"text":"HNSC","fontSize":12,"fontWeight":"bold","offset":6},
    "data":{"name":"hnsc"},"mark":{"type":"rect","stroke":"#b0b0b0","strokeWidth":0.7},
    "encoding":{
     "x":{"field":"c","type":"nominal","sort":["ImmuneScore","CD8A","PD1","PDL1","PDL2","CTLA4","CD80","CD86","BTLA","HVEM","LAG3"],"scale":{"paddingInner":0,"paddingOuter":0},"axis":{"title":null,"orient":"bottom","labelAngle":90,"ticks":false,"domain":false,"labelFontSize":9.5,"labelColor":"#333333","labelPadding":3}},
     "y":{"field":"r","type":"nominal","sort":null,"scale":{"paddingInner":0,"paddingOuter":0},"axis":{"title":null,"orient":"right","ticks":false,"domain":false,"labelFontSize":9,"labelColor":"#333333","labelPadding":2}},
     "color":{"field":"s","type":"nominal","scale":{"domain":["C","U","A"],"range":["#c4090c","#ffffff","#2b4c92"]}}
    }}
   ]}
  ]}
 ]},
{"spacing":19,
 "hconcat":[
 {"width":543,"height":233,"view":{"stroke":"#dcdcdc"},
  "title":{"text":"D","anchor":"start","frame":"group","align":"left","offset":0,"dx":-41,"dy":24.5,"fontSize":14,"fontWeight":"bold"},
  "data":{"name":"d"},
  "mark":{"type":"bar","color":"#6ba83f"},
  "encoding":{
   "x":{"field":"erv","type":"nominal","sort":null,"scale":{"paddingInner":0.1,"paddingOuter":0.15},"axis":{"title":null,"labelAngle":-90,"labelFontSize":7,"labelColor":"#4d4d4d","tickColor":"#333333","tickSize":3,"domain":false,"grid":true,"gridColor":"#ebebeb","labelPadding":2}},
   "y":{"field":"n","type":"quantitative","scale":{"domain":[-0.55,11.55],"nice":false,"zero":false},"axis":{"title":"potentially immunogenic in number of cancers","titleFontSize":12.5,"titleFontWeight":"normal","titleColor":"#000000","titleX":-28,"titleY":150,"values":[0,0.5,1,1.5,2,2.5,3,3.5,4,4.5,5,5.5,6,6.5,7,7.5,8,8.5,9,9.5,10,10.5,11],"labelExpr":"datum.value % 1 == 0 ? format(datum.value, 'd') : ''","labelOverlap":false,"labelFontSize":9,"labelColor":"#4d4d4d","tickColor":"#333333","tickSize":3,"tickOpacity":{"condition":{"test":"datum.value % 1 != 0","value":0},"value":1},"domain":false,"grid":true,"gridColor":{"condition":{"test":"datum.value % 1 != 0","value":"#f4f4f4"},"value":"#ebebeb"},"labelPadding":2}},
   "y2":{"datum":0}
  }},
 {"bounds":"flush","spacing":12,
  "vconcat":[
  {"width":1,"height":1,"data":{"values":[]},"mark":{"type":"point","opacity":0}},
  {"width":106,"height":212,"title":{"text":"ERV3.2","fontSize":10,"fontWeight":"bold","offset":3},
   "data":{"name":"erv32"},"mark":{"type":"rect","stroke":"#b0b0b0","strokeWidth":0.6},
   "encoding":{
    "x":{"field":"c","type":"nominal","sort":["ImmuneScore","CD8A","PD1","PDL1","PDL2","CTLA4","CD80","CD86","BTLA","HVEM","LAG3"],"scale":{"paddingInner":0,"paddingOuter":0},"axis":{"title":null,"orient":"bottom","labelAngle":90,"ticks":false,"domain":false,"labelFontSize":8,"labelColor":"#333333","labelPadding":3}},
    "y":{"field":"r","type":"nominal","sort":null,"scale":{"paddingInner":0,"paddingOuter":0},"axis":{"title":null,"orient":"right","ticks":false,"domain":false,"labelFontSize":8,"labelColor":"#333333","labelPadding":3}},
    "color":{"field":"s","type":"nominal","scale":{"domain":["C","U","A"],"range":["#c4090c","#ffffff","#2b4c92"]}}
   }}
  ]}
 ]}
]
}
